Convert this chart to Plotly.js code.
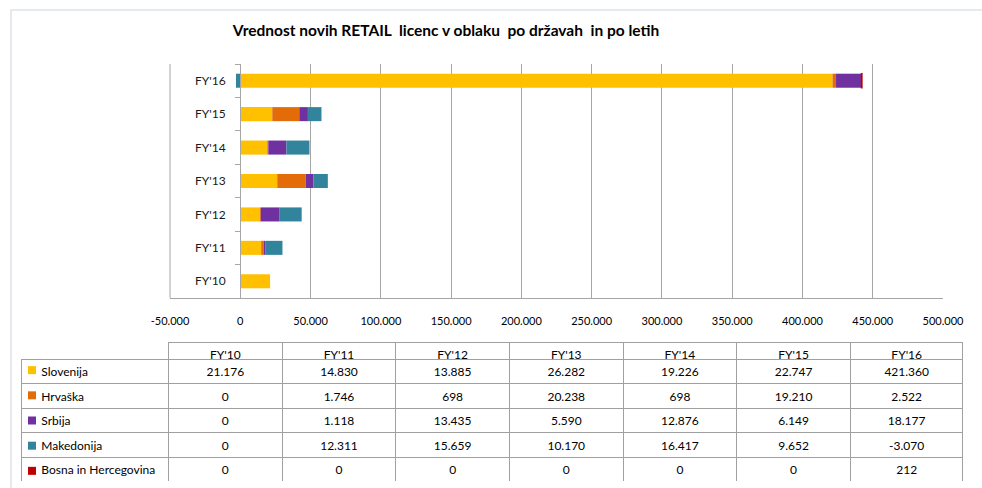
<!DOCTYPE html>
<html>
<head>
<meta charset="utf-8">
<script src="https://cdn.plot.ly/plotly-3.0.1.min.js"></script>
<style>html,body{margin:0;padding:0;background:#fff;}#chart{width:982px;height:488px;}</style>
</head>
<body>
<div id="chart"></div>
<script>
const years = ["FY'10", "FY'11", "FY'12", "FY'13", "FY'14", "FY'15", "FY'16"];
const countries = ["Slovenija", "Hrvaška", "Srbija", "Makedonija", "Bosna in Hercegovina"];
const colors = ["#FFC000", "#E36C09", "#7030A0", "#31849B", "#C00000"];
const slovenija = [21176, 14830, 13885, 26282, 19226, 22747, 421360];
const hrvaska = [0, 1746, 698, 20238, 698, 19210, 2522];
const srbija = [0, 1118, 13435, 5590, 12876, 6149, 18177];
const makedonija = [0, 12311, 15659, 10170, 16417, 9652, -3070];
const bosna = [0, 0, 0, 0, 0, 0, 212];
const series = [slovenija, hrvaska, srbija, makedonija, bosna];
const xTickVals = [-50000, 0, 50000, 100000, 150000, 200000, 250000, 300000, 350000, 400000, 450000, 500000];

const FONT = "Lato, 'Open Sans', sans-serif";
const GRID = "#a6a6a6";

function fmt(v) {
  const s = String(Math.abs(v)).replace(/\B(?=(\d{3})+(?!\d))/g, ".");
  return (v < 0 ? "-" : "") + s;
}

const traces = series.map((vals, i) => ({
  type: "bar",
  orientation: "h",
  name: countries[i],
  y: years,
  x: vals,
  marker: {
    color: colors[i],
    line: { color: colors[i], width: vals.map(v => (v !== 0 && Math.abs(v) < 500) ? 1.5 : 0) }
  },
  hoverinfo: "x+name"
}));

// table built from the same arrays
const firstCol = countries.map(c => "\u00a0\u00a0\u00a0\u00a0" + c);
const tableCols = [firstCol];
for (let j = 0; j < years.length; j++) {
  tableCols.push(series.map(s => fmt(s[j])));
}
const lineColors = ["rgba(0,0,0,0)"].concat(years.map(() => "#a0a0a0"));
const cellFill = ["rgba(0,0,0,0)"].concat(years.map(() => "#ffffff"));
traces.push({
  type: "table",
  domain: { x: [0, 1], y: [0, 0.3349] },
  columnwidth: [148, 114, 114, 114, 114, 114, 114, 113],
  header: {
    values: [""].concat(years),
    align: "center",
    height: 17,
    line: { color: lineColors, width: 1 },
    fill: { color: "rgba(0,0,0,0)" },
    font: { family: FONT, size: 12, color: "#000" }
  },
  cells: {
    values: tableCols,
    align: ["left", "center", "center", "center", "center", "center", "center", "center"],
    height: 24.5,
    line: { color: "#a0a0a0", width: 1 },
    fill: { color: cellFill },
    font: { family: FONT, size: 12, color: "#000" }
  }
});

// legend keys in the table's first column
traces.push({
  type: "scatter",
  mode: "markers",
  xaxis: "x2",
  yaxis: "y2",
  x: countries.map(() => 0),
  y: countries,
  marker: { symbol: "square", size: 8, color: colors, line: { width: 0 } },
  hoverinfo: "skip",
  cliponaxis: false
});

const layout = {
  width: 982,
  height: 488,
  margin: { l: 21, r: 19, t: 64, b: 6, pad: 0 },
  paper_bgcolor: "#ffffff",
  plot_bgcolor: "rgba(0,0,0,0)",
  separators: ",.",
  showlegend: false,
  barmode: "relative",
  bargap: 0.58,
  font: { family: FONT, size: 11, color: "#000" },
  title: {
    text: "<b>Vrednost novih RETAIL\u00a0 licenc v oblaku\u00a0 po državah\u00a0 in po letih</b>",
    x: 446 / 982, xref: "container", xanchor: "center",
    y: 1 - 31 / 488, yref: "container", yanchor: "middle",
    font: { family: FONT, size: 15.5, color: "#000" }
  },
  xaxis: {
    domain: [0.1582, 0.9788],
    range: [-50000, 500000],
    tickvals: xTickVals,
    ticktext: xTickVals.map(fmt),
    showgrid: true,
    gridcolor: GRID,
    gridwidth: 1,
    zeroline: false,
    showline: true,
    linecolor: GRID,
    linewidth: 1,
    ticks: "",
    ticklabelstandoff: 13,
    tickfont: { family: FONT, size: 11, color: "#000" },
    fixedrange: true
  },
  yaxis: {
    domain: [0.4402, 1],
    type: "category",
    categoryorder: "array",
    categoryarray: years,
    anchor: "free",
    position: 0.2325,
    showline: true,
    linecolor: GRID,
    linewidth: 1,
    showgrid: false,
    zeroline: false,
    ticks: "outside",
    tickson: "boundaries",
    ticklen: 5,
    tickcolor: GRID,
    ticklabelstandoff: 12,
    tickfont: { family: FONT, size: 12, color: "#1a1a1a" },
    fixedrange: true
  },
  xaxis2: {
    domain: [0, 148 / 942],
    range: [-11, 137],
    visible: false,
    anchor: "y2",
    fixedrange: true
  },
  yaxis2: {
    domain: [0, 123 / 418],
    type: "category",
    categoryorder: "array",
    categoryarray: countries,
    autorange: "reversed",
    visible: false,
    anchor: "x2",
    fixedrange: true
  },
  shapes: [
    { type: "rect", xref: "paper", yref: "paper", x0: -0.0106, x1: 1.2, y0: -0.2, y1: 1.129,
      line: { color: "#dde3ea", width: 1.5 }, fillcolor: "rgba(0,0,0,0)", layer: "below" },
    { type: "line", xref: "x domain", yref: "y domain", x0: 0, x1: 0, y0: 0, y1: 1,
      line: { color: GRID, width: 1 }, layer: "below" }
  ]
};

Plotly.newPlot("chart", traces, layout, { displayModeBar: false, staticPlot: true });
</script>
</body>
</html>
